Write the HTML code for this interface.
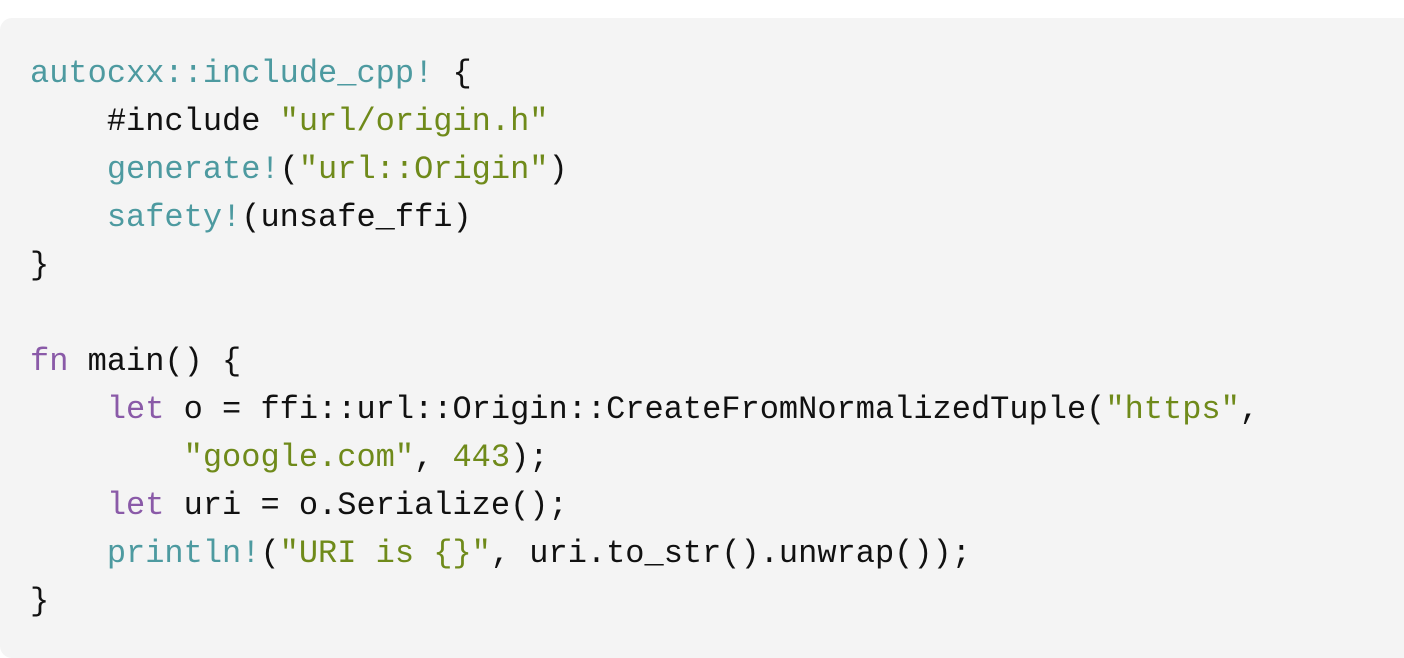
<!DOCTYPE html>
<html><head><meta charset="utf-8"><style>
html,body{margin:0;padding:0;background:#fff;width:1404px;height:640px;overflow:hidden}
.box{position:absolute;left:0;top:18px;width:1430px;height:640px;background:#f4f4f4;border-radius:12px}
pre{position:absolute;left:30px;top:50px;margin:0;font-family:"Liberation Mono",monospace;font-size:32px;line-height:48px;color:#111}
.m{color:#4d9aa0}.s{color:#6f8a1a}.k{color:#8a5aa8}
</style></head><body>
<div class="box"></div>
<pre><span class="m">autocxx::include_cpp!</span> {
    #include <span class="s">"url/origin.h"</span>
    <span class="m">generate!</span>(<span class="s">"url::Origin"</span>)
    <span class="m">safety!</span>(unsafe_ffi)
}

<span class="k">fn</span> main() {
    <span class="k">let</span> o = ffi::url::Origin::CreateFromNormalizedTuple(<span class="s">"https"</span>,
        <span class="s">"google.com"</span>, <span class="s">443</span>);
    <span class="k">let</span> uri = o.Serialize();
    <span class="m">println!</span>(<span class="s">"URI is {}"</span>, uri.to_str().unwrap());
}</pre>
</body></html>
